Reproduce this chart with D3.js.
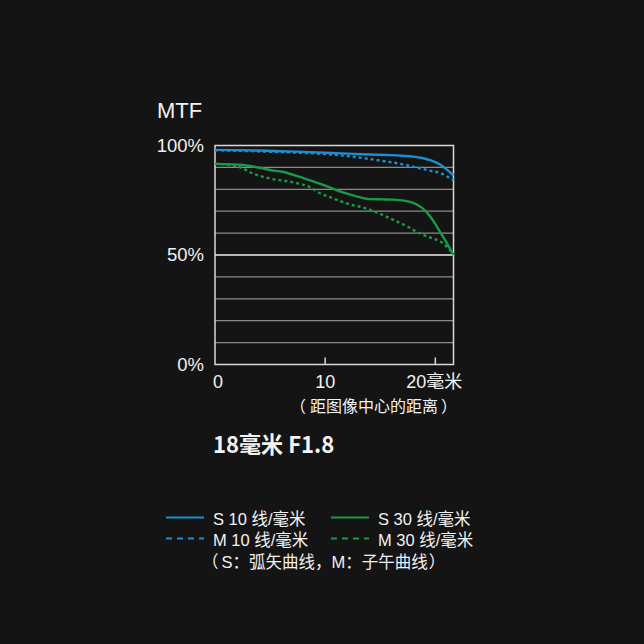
<!DOCTYPE html>
<html>
<head>
<meta charset="utf-8">
<script src="https://cdn.jsdelivr.net/npm/d3@7"></script>
<style>
  html, body { margin: 0; padding: 0; background: #141414; }
  svg { display: block; }
  text { fill: #f2f2f2; font-family: "Liberation Sans", "Noto Sans CJK SC", sans-serif; }
  .cjk { font-family: "Noto Sans CJK SC", sans-serif; }
  .lat { font-family: "Liberation Sans", sans-serif; }
</style>
</head>
<body>
<svg id="chart" width="644" height="644"></svg>
<script>
// distance from image centre (mm) and MTF (%)
var s10x = [0, 2, 4, 6, 8, 10, 12, 14, 16, 17, 18, 18.8, 19.6, 20.4, 21, 21.65];
var s10y = [98.0, 97.9, 97.7, 97.4, 97.1, 96.7, 96.3, 95.9, 95.6, 95.3, 94.9, 94.3, 93.2, 91.4, 89.2, 86.3];
var m10x = [0, 2, 4, 6, 8, 10, 12, 13.5, 15, 16.5, 18, 18.6, 19.5, 20.5, 21, 21.65];
var m10y = [97.8, 97.6, 97.3, 97.0, 96.6, 96.1, 95.2, 94.2, 93.1, 91.9, 90.3, 89.6, 88.5, 87.3, 86.0, 84.2];
var s30x = [0, 1.5, 2.5, 4.3, 5.2, 6.1, 7.9, 9.7, 11.4, 12.7, 14.1, 15.2, 16.2, 17.2, 18, 18.8, 19.5, 20.5, 21.1, 21.65];
var s30y = [91.6, 91.4, 91.1, 89.6, 88.6, 88.0, 85.3, 82.3, 78.9, 77.0, 75.5, 75.4, 75.3, 74.8, 73.8, 71.5, 67.8, 60.0, 55.0, 50.0];
var m30x = [0, 1.5, 2.3, 3.4, 5.2, 7, 8.8, 9.5, 10.5, 12.3, 13.5, 14.8, 16, 17.5, 18.3, 19.5, 20.5, 21.1, 21.65];
var m30y = [91.6, 91.0, 90.0, 87.3, 84.7, 83.3, 80.5, 78.3, 76.3, 73.0, 71.6, 69.2, 66.5, 62.9, 60.6, 58.0, 56.0, 53.5, 50.0];

var yTicks = [0, 50, 100];
var yTickLabels = ['0%', '50%', '100%'];
var xTicks = [0, 10, 20];
var xTickLabels = ['0', '10', '20毫米'];

var seriesNames = ['S 10 线/毫米', 'S 30 线/毫米', 'M 10 线/毫米', 'M 30 线/毫米'];
var blue = '#1c8fd3';
var green = '#1a9a48';

var margin = {top: 145.5, left: 215, right: 644 - 453.5, bottom: 644 - 364.5};
var width = 644 - margin.left - margin.right;
var height = 644 - margin.top - margin.bottom;

var svg = d3.select('#chart');
var g = svg.append('g').attr('transform', 'translate(' + margin.left + ',' + margin.top + ')');

var x = d3.scaleLinear().domain([0, 21.65]).range([0, width]);
var y = d3.scaleLinear().domain([0, 100]).range([height, 0]);

// horizontal grid every 10 %
g.selectAll('.grid')
    .data(d3.range(10, 100, 10))
    .join('line')
    .attr('class', 'grid')
    .attr('x1', 0).attr('x2', width)
    .attr('y1', d => y(d)).attr('y2', d => y(d))
    .attr('stroke', d => d == 50 ? '#f0f0f0' : '#8a8a8a')
    .attr('stroke-width', d => d == 50 ? 1.6 : 1.2);

// frame
g.append('rect')
    .attr('x', 0).attr('y', 0)
    .attr('width', width).attr('height', height)
    .attr('fill', 'none')
    .attr('stroke', '#d8d8d8')
    .attr('stroke-width', 1.5);

// inner tick marks on bottom axis
g.selectAll('.xtick')
    .data(xTicks.filter(d => d > 0))
    .join('line')
    .attr('class', 'xtick')
    .attr('x1', d => x(d)).attr('x2', d => x(d))
    .attr('y1', height).attr('y2', height - 7)
    .attr('stroke', '#d8d8d8')
    .attr('stroke-width', 1.5);

var line = d3.line()
    .x(d => x(d[0]))
    .y(d => y(d[1]))
    .curve(d3.curveMonotoneX);

function zip(a, b) { return a.map((v, i) => [v, b[i]]); }

var curves = [
    {pts: zip(m30x, m30y), color: green, dash: '3,3'},
    {pts: zip(s30x, s30y), color: green, dash: null},
    {pts: zip(m10x, m10y), color: blue, dash: '3,3'},
    {pts: zip(s10x, s10y), color: blue, dash: null}
];

g.selectAll('.curve')
    .data(curves)
    .join('path')
    .attr('class', 'curve')
    .attr('d', d => line(d.pts))
    .attr('fill', 'none')
    .attr('stroke', d => d.color)
    .attr('stroke-width', 2.4)
    .attr('stroke-dasharray', d => d.dash);

// y labels
g.selectAll('.ylab')
    .data(yTicks)
    .join('text')
    .attr('class', 'ylab')
    .attr('x', -11)
    .attr('y', d => y(d) + 6)
    .attr('text-anchor', 'end')
    .style('font-size', '18.5px')
    .text((d, i) => yTickLabels[i]);

// x labels
g.selectAll('.xlab')
    .data(xTicks)
    .join('text')
    .attr('class', 'xlab')
    .attr('x', d => d == 0 ? x(d) + 3 : (d == 20 ? x(d) - 1 : x(d)))
    .attr('y', height + 23.5)
    .attr('text-anchor', 'middle')
    .style('font-size', '18px')
    .text((d, i) => xTickLabels[i]);

svg.append('text')
    .attr('x', 157).attr('y', 118)
    .style('font-size', '22px')
    .text('MTF');

// axis subtitle with spaced full-width brackets
var sub = svg.append('text')
    .attr('class', 'cjk')
    .attr('x', 290).attr('y', 412)
    .style('font-size', '16px');
var subParts = [['（', 0], ['距图像中心的距离', 4], ['）', 3]];
sub.selectAll('tspan')
    .data(subParts)
    .join('tspan')
    .attr('dx', d => d[1])
    .text(d => d[0]);

svg.append('text')
    .attr('transform', 'translate(213,453) scale(0.96,1)')
    .style('font-family', '"Noto Sans CJK SC", sans-serif')
    .style('font-weight', 'bold')
    .style('font-size', '23px')
    .text('18毫米 F1.8');

// legend
var legend = svg.append('g');
var legendItems = [
    {name: seriesNames[0], color: blue, dash: null, col: 0, row: 0},
    {name: seriesNames[1], color: green, dash: null, col: 1, row: 0},
    {name: seriesNames[2], color: blue, dash: '6,5', col: 0, row: 1},
    {name: seriesNames[3], color: green, dash: '6,5', col: 1, row: 1}
];
var colX = [166, 331];
var rowY = [517.5, 538.5];

legend.selectAll('.lline')
    .data(legendItems)
    .join('line')
    .attr('class', 'lline')
    .attr('x1', d => colX[d.col]).attr('x2', d => colX[d.col] + 38)
    .attr('y1', d => rowY[d.row]).attr('y2', d => rowY[d.row])
    .attr('stroke', d => d.color)
    .attr('stroke-width', 2)
    .attr('stroke-dasharray', d => d.dash);

legend.selectAll('.ltext')
    .data(legendItems)
    .join('text')
    .attr('class', 'ltext')
    .attr('x', d => colX[d.col] + 47)
    .attr('y', d => rowY[d.row] + 7)
    .style('font-size', '16.5px')
    .text(d => d.name);

var note = legend.append('text')
    .attr('class', 'cjk')
    .attr('x', 202).attr('y', 568)
    .style('font-size', '16.5px');
var noteParts = [['（', 'cjk', 0], ['S', 'lat', 3], ['：', 'cjk', 0], ['弧矢曲线，', 'cjk', 0], ['M', 'lat', 0], ['：', 'cjk', 0], ['子午曲线', 'cjk', 0], ['）', 'cjk', 1]];
note.selectAll('tspan')
    .data(noteParts)
    .join('tspan')
    .attr('class', d => d[1])
    .attr('dx', d => d[2])
    .text(d => d[0]);
</script>
</body>
</html>
